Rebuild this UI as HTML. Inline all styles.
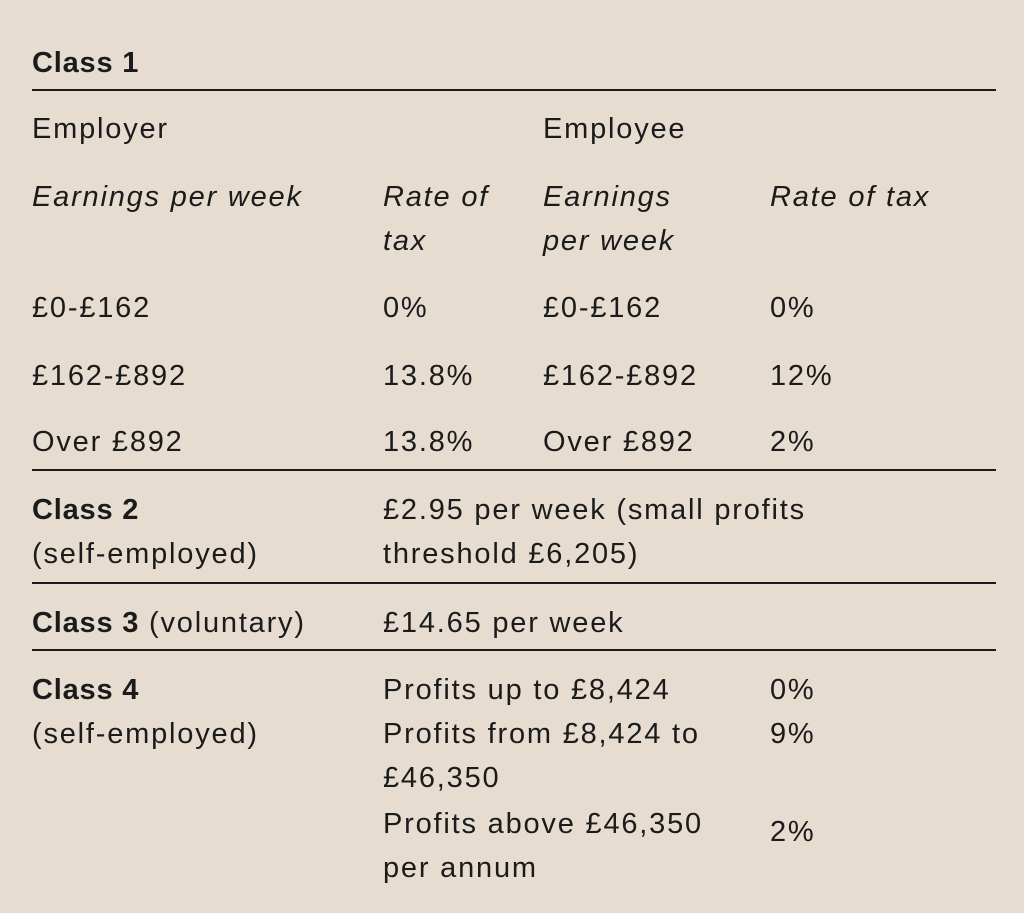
<!DOCTYPE html>
<html><head><meta charset="utf-8"><style>
html,body{margin:0;padding:0}
body{width:1024px;height:913px;background:#e6ddd0;position:relative;overflow:hidden;font-family:"Liberation Sans",sans-serif;font-size:29px;letter-spacing:1.8px;color:#1b1b1b}
.t{position:absolute;line-height:44px;white-space:nowrap}
.b{font-weight:bold;letter-spacing:0.8px}
.i{font-style:italic}
.l{position:absolute;left:32px;width:964px;height:2px;background:#1b1b1b}
</style></head><body>
<div class="t b" style="left:32px;top:41px">Class 1</div>
<div class="l" style="top:89px"></div>
<div class="t" style="left:32px;top:107px">Employer</div>
<div class="t" style="left:543px;top:107px">Employee</div>
<div class="t i" style="left:32px;top:175px">Earnings per week</div>
<div class="t i" style="left:383px;top:175px">Rate of<br>tax</div>
<div class="t i" style="left:543px;top:175px">Earnings<br>per week</div>
<div class="t i" style="left:770px;top:175px">Rate of tax</div>
<div class="t" style="left:32px;top:286px">£0-£162</div>
<div class="t" style="left:383px;top:286px">0%</div>
<div class="t" style="left:543px;top:286px">£0-£162</div>
<div class="t" style="left:770px;top:286px">0%</div>
<div class="t" style="left:32px;top:354px">£162-£892</div>
<div class="t" style="left:383px;top:354px">13.8%</div>
<div class="t" style="left:543px;top:354px">£162-£892</div>
<div class="t" style="left:770px;top:354px">12%</div>
<div class="t" style="left:32px;top:420px">Over £892</div>
<div class="t" style="left:383px;top:420px">13.8%</div>
<div class="t" style="left:543px;top:420px">Over £892</div>
<div class="t" style="left:770px;top:420px">2%</div>
<div class="l" style="top:469px"></div>
<div class="t" style="left:32px;top:488px"><span class="b">Class 2</span><br>(self-employed)</div>
<div class="t" style="left:383px;top:488px">£2.95 per week (small profits<br>threshold £6,205)</div>
<div class="l" style="top:582px"></div>
<div class="t" style="left:32px;top:601px"><span class="b">Class 3</span> (voluntary)</div>
<div class="t" style="left:383px;top:601px">£14.65 per week</div>
<div class="l" style="top:649px"></div>
<div class="t" style="left:32px;top:668px"><span class="b">Class 4</span><br>(self-employed)</div>
<div class="t" style="left:383px;top:668px">Profits up to £8,424<br>Profits from £8,424 to<br>£46,350</div>
<div class="t" style="left:770px;top:668px">0%<br>9%</div>
<div class="t" style="left:383px;top:802px">Profits above £46,350<br>per annum</div>
<div class="t" style="left:770px;top:810px">2%</div>
</body></html>
